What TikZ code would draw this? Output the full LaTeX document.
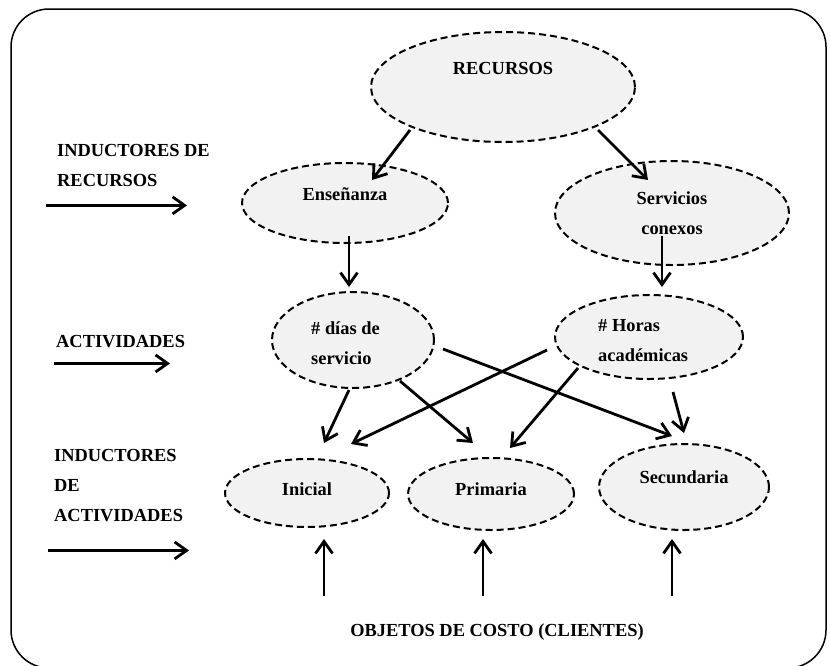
\documentclass[tikz,border=0pt]{standalone}
\usepackage{fontspec}
\setmainfont{Liberation Serif}
\usetikzlibrary{calc}
\usetikzlibrary{arrows.meta}
\usetikzlibrary{shapes.geometric}
\definecolor{grisclaro}{RGB}{242,242,242}

\begin{document}
\begin{tikzpicture} [x=1pt, y=-1pt,
  elipse/.style={ellipse, draw, dash pattern=on 7pt off 4pt, line width=2pt, fill=grisclaro, inner sep=0pt},
  texto/.style={font=\fontsize{18.4}{30}\selectfont\bfseries, inner sep=0pt},
  flecha/.style={line width=2.8pt, -{Straight Barb[length=12pt,width=17pt]}}]
\useasboundingbox (0,0) rectangle (830,665);
\draw[line width=1.5pt, rounded corners=38pt] (11,9) rectangle (826,668);

% elipses
\node[elipse, minimum width=264pt, minimum height=110pt] (rec) at (503,87) {};
\node[elipse, minimum width=206pt, minimum height=80pt] (ens) at (345,203) {};
\node[elipse, minimum width=234pt, minimum height=104pt] (serv) at (672,213) {};
\node[elipse, minimum width=162pt, minimum height=96pt] (dias) at (353,340) {};
\node[elipse, minimum width=188pt, minimum height=84pt] (hor) at (649,337) {};
\node[elipse, minimum width=164pt, minimum height=68pt] (ini) at (307,493) {};
\node[elipse, minimum width=166pt, minimum height=72pt] (pri) at (491,494) {};
\node[elipse, minimum width=170pt, minimum height=86pt] (sec) at (684,487) {};

% textos de las elipses
\node[texto] (trec) at (503,68) {RECURSOS};
\node[texto] (tens) at (345,194) {Enseñanza};
\node[texto, align=center] (tserv) at (672,213) {Servicios\\conexos};
\node[texto, align=left, anchor=west] (tdias) at (311,343) {\# días de\\servicio};
\node[texto, align=left, anchor=west] (thor) at (598,341) {\# Horas\\académicas};
\node[texto] (tini) at (307,489) {Inicial};
\node[texto] (tpri) at (491,489) {Primaria};
\node[texto] (tsec) at (684,477) {Secundaria};

% textos de la izquierda
\node[texto, align=left, anchor=west] (lrec) at (57,165) {INDUCTORES DE\\RECURSOS};
\node[texto, anchor=west] (lact) at (56,342) {ACTIVIDADES};
\node[texto, align=left, anchor=west] (lind) at (54,486) {INDUCTORES\\DE\\ACTIVIDADES};
\node[texto] (lobj) at (497,632) {OBJETOS DE COSTO (CLIENTES)};

% flechas de la izquierda
\coordinate (frec) at ($(lrec.south west)+(-11,19)$);
\coordinate (fact) at ($(lact.south west)+(-2,15)$);
\coordinate (find) at ($(lind.south west)+(-6,28)$);
\draw[flecha] (frec) --++(141,0);
\draw[flecha] (fact) --++(116,0);
\draw[flecha] (find) --++(141,0);

% flechas entre elipses
\draw[flecha] ($(rec)+(-93,43)$) -- ($(ens)+(27,-23)$);
\draw[flecha] ($(rec)+(95,43)$) -- ($(serv)+(-24,-33)$);
\draw[flecha] ($(ens)+(4,33)$) -- ($(dias)+(-4,-53)$);
\draw[flecha] ($(serv)+(-10,23)$) -- ($(hor)+(13,-50)$);
\draw[flecha] ($(dias)+(-4,50)$) -- ($(ini)+(17,-50)$);
\draw[flecha] ($(dias)+(47,41)$) -- ($(pri)+(-18,-51)$);
\draw[flecha] ($(dias)+(90,9)$) -- ($(sec)+(-12,-51)$);
\draw[flecha] ($(hor)+(-102,13)$) -- ($(ini)+(44,-49)$);
\draw[flecha] ($(hor)+(-71,31)$) -- ($(pri)+(19,-46)$);
\draw[flecha] ($(hor)+(24,55)$) -- ($(sec)+(0,-54)$);

% objetos de costo
\foreach \n/\dx/\dy in {ini/17/46, pri/-8/45, sec/-12/52}
\draw[flecha] ($(\n)+(\dx,\dy+57)$) -- ($(\n)+(\dx,\dy)$);

\end{tikzpicture}
\end{document}
